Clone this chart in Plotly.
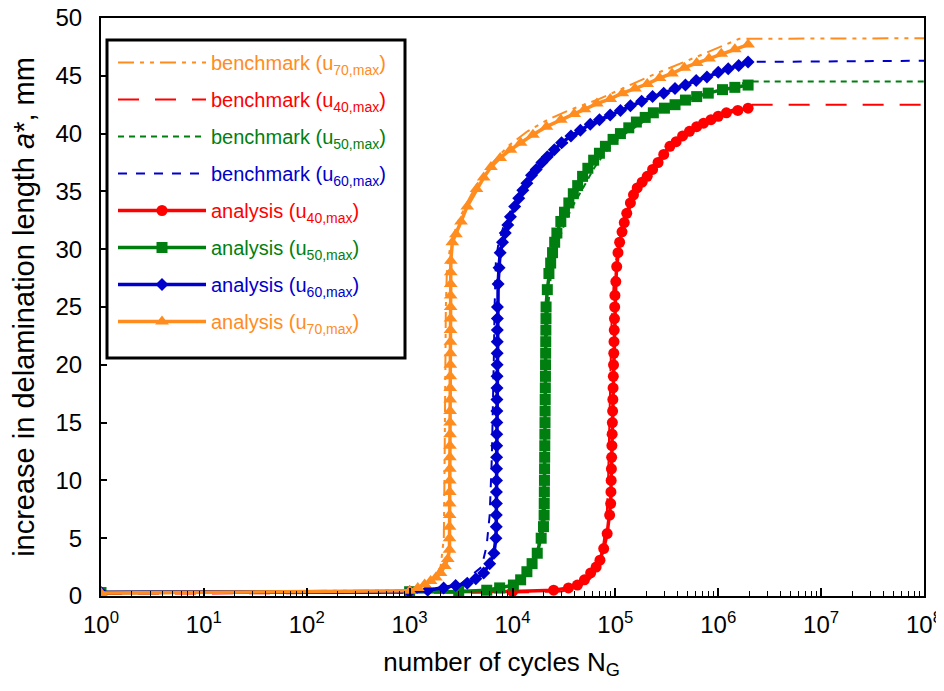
import plotly.graph_objects as go

# ---------------- data ----------------
# analysis u70,max (orange, triangles)
N_a70 = [1, 1000, 1200, 1400, 1600, 1800, 2000, 2200, 2350,
         2440, 2443, 2446, 2449, 2452, 2455, 2458, 2461, 2464, 2467, 2470, 2473, 2476,
         2479, 2482, 2485, 2488, 2491, 2494, 2497, 2500, 2503, 2506, 2509, 2512, 2515,
         2600, 2820, 3160, 3630, 4470, 5250, 6170, 7590, 9550, 12000, 15800, 21400,
         29500, 39800, 50100, 66100, 89100, 117000, 155000, 204000, 269000, 355000,
         468000, 617000, 813000, 1070000, 1450000, 1950000]
a_a70 = [0.25, 0.45, 0.7, 1.0, 1.3, 1.6, 2.0, 2.6, 3.2,
         4, 5, 6, 7, 8, 9, 10, 11, 12, 13, 14, 15, 16,
         17, 18, 19, 20, 21, 22, 23, 24, 25, 26, 27, 28, 29,
         30.6, 31.3, 32.4, 33.7, 35.2, 36.2, 37.1, 37.9, 38.6, 39.2, 39.9, 40.6,
         41.2, 41.7, 42.1, 42.6, 43.0, 43.5, 43.9, 44.3, 44.8, 45.2,
         45.7, 46.1, 46.5, 46.9, 47.3, 47.7]

# benchmark u70,max (orange, dash-dot)
N_b70 = [1, 10, 100, 1000, 1300, 1700, 2000, 2150, 2180, 2200, 2220, 2250, 2300, 2500, 3000,
         3600, 4500, 6000, 9000, 14000, 22000, 35000, 70000, 220000, 680000, 1600000, 1e8]
a_b70 = [0.3, 0.35, 0.4, 0.5, 0.9, 1.5, 2.5, 5.0, 10.0, 15.0, 20.0, 25.0, 28.0, 30.5, 32.5,
         34.0, 35.6, 37.2, 38.9, 40.2, 41.2, 42.0, 43.0, 45.0, 46.8, 48.2, 48.25]

# analysis u60,max (blue, diamonds)
N_a60 = [1, 1000, 1500, 2140, 2800, 3630, 4400, 5250, 6000, 6600, 6900,
         6950, 6960, 6970, 6980, 6990, 7000, 7010, 7020, 7030, 7040, 7050, 7060, 7070,
         7080, 7090, 7100, 7110, 7120, 7130, 7140,
         7250, 7400, 7590, 8000, 8500, 9000, 9550, 10500, 11500, 12600, 13800, 15300,
         17000, 19300, 21800, 25500, 30000, 37000, 45700, 57000, 70000, 89000, 112000,
         140000, 180000, 230000, 295000, 380000, 480000, 610000, 776000, 1000000,
         1250000, 1580000, 1950000]
a_a60 = [0.3, 0.37, 0.5, 0.7, 0.9, 1.1, 1.5, 2.0, 2.8, 3.7, 5.0,
         6, 7, 8, 9, 10, 11, 12, 13, 14, 15, 16, 17, 18,
         19, 20, 21, 22, 23, 24, 25,
         27.0, 28.4, 29.7, 30.6, 31.4, 32.1, 32.8, 33.7, 34.4, 35.1, 35.7, 36.4,
         36.9, 37.5, 38.0, 38.6, 39.2, 39.8, 40.3, 40.8, 41.2, 41.6, 42.0,
         42.4, 42.8, 43.2, 43.5, 43.9, 44.2, 44.6, 44.9, 45.3,
         45.6, 45.9, 46.2]

# benchmark u60,max (blue, dashed)
N_b60 = [1, 10, 100, 1000, 3000, 5000, 5600, 6000, 6300, 6500, 6600, 6700, 6800, 6900, 7300,
         8200, 9800, 12500, 15500, 22000, 45000, 112000, 300000, 800000, 1950000, 1e8]
a_b60 = [0.3, 0.32, 0.35, 0.4, 0.9, 2.5, 4.3, 7.0, 12.0, 17.0, 21.0, 25.0, 27.5, 29.0, 30.5,
         32.0, 33.5, 34.8, 36.2, 37.8, 40.1, 42.0, 43.5, 44.9, 46.2, 46.3]

# analysis u50,max (green, squares)
N_a50 = [1, 1000, 3000, 5620, 7500, 10200, 12000, 13800, 15500, 17400, 19000, 20000,
         20300, 20350, 20400, 20450, 20500, 20550, 20600, 20650, 20700, 20750, 20800,
         20850, 20900, 20950, 21000, 21050, 21100, 21150, 21200,
         21800, 22600, 23500, 24500, 25700, 27000, 29500, 32000, 35300, 39000, 43000,
         48000, 54000, 61500, 70000, 80000, 95000, 112000, 135000, 160000, 195000,
         234000, 300000, 380000, 480000, 617000, 800000, 1100000, 1450000, 1950000]
a_a50 = [0.3, 0.37, 0.4, 0.5, 0.7, 0.95, 1.4, 2.1, 2.8, 3.7, 5.0, 6.0,
         7, 8, 9, 10, 11, 12, 13, 14, 15, 16, 17,
         18, 19, 20, 21, 22, 23, 24, 25,
         26.5, 27.9, 28.8, 29.7, 30.6, 31.4, 32.4, 33.2, 34.0, 34.8, 35.5,
         36.3, 37.0, 37.7, 38.3, 38.9, 39.5, 40.0, 40.5, 41.0, 41.4,
         41.8, 42.2, 42.5, 42.9, 43.2, 43.5, 43.8, 44.0, 44.2]

# benchmark u50,max (green, short dash)
N_b50 = [1, 10, 100, 1000, 5000, 10000, 14000, 17500, 19500, 20500, 21000, 21500, 22000,
         23500, 27500, 33000, 40000, 50000, 62000, 80000, 112000, 234000, 617000, 1950000, 1e8]
a_b50 = [0.3, 0.32, 0.35, 0.37, 0.45, 0.9, 2.0, 4.0, 7.0, 12.0, 17.0, 21.0, 24.5,
         27.5, 30.5, 32.5, 34.0, 35.5, 37.0, 38.4, 39.7, 41.6, 43.2, 44.5, 44.5]

# analysis u40,max (red, circles)
N_a40 = [1, 1000, 10000, 25100, 35000, 42700, 50000, 57500, 65000, 70800, 77000, 83200,
         88000,
         90000, 90500, 91000, 91500, 92000, 92500, 93000, 93500, 94000, 94500, 95000,
         95500, 96000, 96500, 97000, 97500, 98000, 98500, 99000,
         101000, 103000, 106000, 110000, 116000, 122000, 129000, 140000, 150000, 163000,
         182000, 204000, 230000, 260000, 295000, 339000, 390000, 450000, 525000, 617000,
         720000, 850000, 1000000, 1200000, 1550000, 1950000]
a_a40 = [0.3, 0.37, 0.4, 0.5, 0.7, 0.95, 1.4, 2.0, 2.5, 3.1, 4.1, 5.4,
         7.0,
         8, 9, 10, 11, 12, 13, 14, 15, 16, 17, 18,
         19, 20, 21, 22, 23, 24, 25, 26,
         27.2, 28.5, 29.7, 30.6, 31.5, 32.3, 33.1, 34.0, 34.7, 35.3,
         35.8, 36.3, 36.9, 37.5, 38.2, 38.9, 39.3, 39.8, 40.2, 40.6,
         40.9, 41.2, 41.5, 41.8, 42.0, 42.2]

# benchmark u40,max (red, long dash)
N_b40 = [1, 10, 100, 1000, 10000, 30000, 45000, 57000, 66000, 75000, 82000, 85000, 87000,
         89000, 92000, 97000, 105000, 125000, 160000, 220000, 340000, 617000, 1200000,
         1950000, 1e8]
a_b40 = [0.2, 0.22, 0.25, 0.27, 0.3, 0.4, 0.8, 1.5, 2.5, 4.0, 6.5, 10.0, 15.0, 20.0, 24.0,
         27.5, 30.0, 32.5, 35.0, 37.0, 39.0, 40.8, 41.9, 42.5, 42.5]

x_ticks = [1, 10, 100, 1e3, 1e4, 1e5, 1e6, 1e7, 1e8]
x_ticktext = ["10<sup>0</sup>", "10<sup>1</sup>", "10<sup>2</sup>", "10<sup>3</sup>",
              "10<sup>4</sup>", "10<sup>5</sup>", "10<sup>6</sup>", "10<sup>7</sup>",
              "10<sup>8</sup>"]

# ---------------- styles ----------------
ORANGE = "#FF8C1E"
RED = "#FF0000"
GREEN = "#007F10"
BLUE = "#0000CC"
FONT = "Liberation Sans, Arial, Helvetica, sans-serif"


def label(text, sub, color):
    return f'<span style="color:{color}">{text} (u<sub>{sub},max</sub>)</span>'


fig = go.Figure()

bench = [
    (N_b70, a_b70, ORANGE, "70", "16px,6px,4px,6px,4px,6px"),
    (N_b40, a_b40, RED, "40", "21px,16px"),
    (N_b50, a_b50, GREEN, "50", "6px,5px"),
    (N_b60, a_b60, BLUE, "60", "9px,9px"),
]
for i, (xs, ys, c, sub, dash) in enumerate(bench):
    fig.add_trace(go.Scatter(
        x=xs, y=ys, mode="lines", name=label("benchmark", sub, c),
        line=dict(color=c, width=2, dash=dash), legendgroup=f"b{i}"))

ana = [
    (N_a40, a_a40, RED, "40", "circle", 11),
    (N_a50, a_a50, GREEN, "50", "square", 11),
    (N_a60, a_a60, BLUE, "60", "diamond", 10),
    (N_a70, a_a70, ORANGE, "70", "triangle-up", 12),
]
for i, (xs, ys, c, sub, sym, ms) in enumerate(ana):
    fig.add_trace(go.Scatter(
        x=xs, y=ys, mode="lines+markers", name=label("analysis", sub, c),
        line=dict(color=c, width=3.5),
        marker=dict(symbol=sym, size=ms, color=c, line=dict(width=0)),
        legendgroup=f"a{i}"))

minor_vals = [m * 10 ** d for d in range(8) for m in range(2, 10)]

# page body has an 8 px default margin, so the figure is shrunk/shifted by it
PW, PH = 823.0, 578.0  # plot area size in px
fig.update_layout(
    width=936, height=683,
    margin=dict(l=93, r=20, t=10, b=95),
    paper_bgcolor="white", plot_bgcolor="white",
    font=dict(family=FONT, color="black"),
    showlegend=True,
    legend=dict(
        x=12 / PW, y=1 - 25 / PH, xanchor="left", yanchor="top",
        bgcolor="rgba(0,0,0,0)", borderwidth=0,
        font=dict(size=20, family=FONT),
        traceorder="grouped", tracegroupgap=8,
        itemwidth=88,
    ),
    shapes=[dict(type="rect", xref="paper", yref="paper",
                 x0=6 / PW, x1=304 / PW, y0=1 - 340 / PH, y1=1 - 22 / PH,
                 line=dict(color="black", width=3), fillcolor="rgba(0,0,0,0)",
                 layer="above")],
    xaxis=dict(
        type="log", range=[0, 8], automargin=False,
        tickmode="array", tickvals=x_ticks, ticktext=x_ticktext,
        ticks="inside", ticklen=8, tickwidth=1.5, tickcolor="black",
        minor=dict(tickmode="array", tickvals=minor_vals, ticks="inside",
                   ticklen=5, tickwidth=1.2, tickcolor="black"),
        showline=True, linewidth=2, linecolor="black", mirror=True,
        showgrid=False, zeroline=False,
        tickfont=dict(size=24, family=FONT),
        ticklabelstandoff=6, ticklabeloverflow="allow",
        title=dict(text="number of cycles N<sub>G</sub>&nbsp;&nbsp;&nbsp;",
                   font=dict(size=26, family=FONT), standoff=16),
    ),
    yaxis=dict(
        range=[0, 50], dtick=5, automargin=False,
        ticks="inside", ticklen=6, tickwidth=1.5, tickcolor="black",
        showline=True, linewidth=2, linecolor="black", mirror=True,
        showgrid=False, zeroline=False,
        tickfont=dict(size=24, family=FONT),
        ticklabelstandoff=12, ticklabeloverflow="allow",
        title=dict(text="increase in delamination length <i>a</i>*, mm",
                   font=dict(size=29, family=FONT), standoff=30),
    ),
)

fig.write_html("out.html")
